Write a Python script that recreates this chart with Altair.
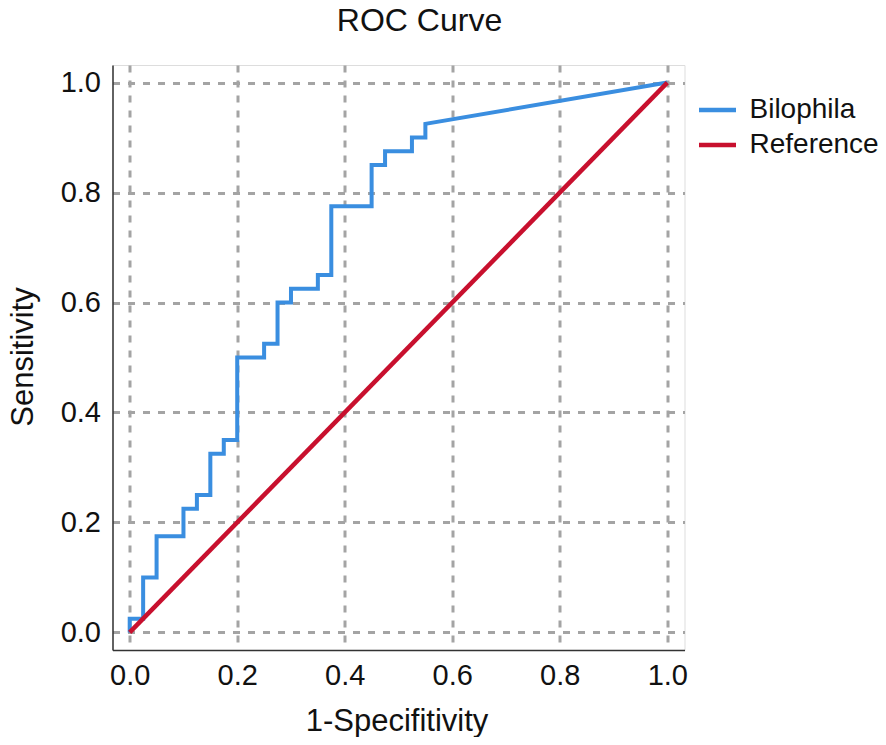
import altair as alt
import pandas as pd

# ROC curve points for Bilophila (1-specificity, sensitivity)
fpr = [0.0, 0.0, 0.025, 0.025, 0.05, 0.05, 0.1, 0.1, 0.125, 0.125, 0.15, 0.15,
       0.175, 0.175, 0.2, 0.2, 0.25, 0.25, 0.275, 0.275, 0.3, 0.3, 0.35, 0.35,
       0.375, 0.375, 0.45, 0.45, 0.475, 0.475, 0.525, 0.525, 0.55, 0.55, 1.0]
tpr = [0.0, 0.025, 0.025, 0.1, 0.1, 0.175, 0.175, 0.225, 0.225, 0.25, 0.25, 0.325,
       0.325, 0.35, 0.35, 0.5, 0.5, 0.525, 0.525, 0.6, 0.6, 0.625, 0.625, 0.65,
       0.65, 0.775, 0.775, 0.85, 0.85, 0.875, 0.875, 0.9, 0.9, 0.925, 1.0]

ref_x = [0.0, 1.0]
ref_y = [0.0, 1.0]

series_names = ["Bilophila", "Reference"]
series_colors = ["#3a8ee0", "#c8102e"]
tick_values = [0.0, 0.2, 0.4, 0.6, 0.8, 1.0]

roc_df = pd.DataFrame({"x": fpr, "y": tpr, "order": list(range(len(fpr))),
                       "series": series_names[0]})
ref_df = pd.DataFrame({"x": ref_x, "y": ref_y, "order": [0, 1],
                       "series": series_names[1]})

FONT = "Liberation Sans"
dom = [-0.032, 1.032]

color = alt.Color(
    "series:N",
    scale=alt.Scale(domain=series_names, range=series_colors),
    legend=alt.Legend(
        title=None, orient="none", legendX=584, legendY=24,
        symbolType="stroke", symbolSize=1369, symbolStrokeWidth=4.5,
        labelFont=FONT, labelFontSize=28, labelColor="#111111",
        labelOffset=11, padding=0, rowPadding=-2,
    ),
)

x_enc = alt.X(
    "x:Q", scale=alt.Scale(domain=dom, nice=False, zero=False),
    axis=alt.Axis(
        values=tick_values, format=".1f", title="1-Specifitivity",
        ticks=False, labelPadding=11, labelBaseline="top",
        labelFont=FONT, labelFontSize=29, labelColor="#111111",
        titleFont=FONT, titleFontSize=31, titleFontWeight="normal",
        titleColor="#111111", titleX=284, titleY=80,
        titleBaseline="alphabetic", titleAlign="center",
        grid=True, gridDash=[7, 8], gridColor="#a4a4a4", gridWidth=3,
        domainColor="#333333", domainWidth=1.5,
    ),
)
y_enc = alt.Y(
    "y:Q", scale=alt.Scale(domain=dom, nice=False, zero=False),
    axis=alt.Axis(
        values=tick_values, format=".1f", title="Sensitivity",
        ticks=False, labelPadding=12,
        labelFont=FONT, labelFontSize=29, labelColor="#111111",
        titleFont=FONT, titleFontSize=31, titleFontWeight="normal",
        titleColor="#111111", titleX=-80, titleY=291.5, titleAngle=270,
        titleBaseline="alphabetic", titleAlign="center",
        grid=True, gridDash=[7, 8], gridColor="#a4a4a4", gridWidth=3,
        domainColor="#333333", domainWidth=1.5,
    ),
)

roc = alt.Chart(roc_df).mark_line(strokeWidth=4).encode(
    x=x_enc, y=y_enc, order="order:Q", color=color)
ref = alt.Chart(ref_df).mark_line(strokeWidth=4.5).encode(
    x=x_enc, y=y_enc, order="order:Q", color=color)

chart = alt.layer(roc, ref).properties(
    width=572, height=585,
    title=alt.TitleParams(
        text="ROC Curve", font=FONT, fontSize=32, fontWeight="normal",
        color="#111111", anchor="middle", frame="group", offset=2,
        baseline="alphabetic", dx=21,
    ),
    autosize=alt.AutoSizeParams(type="none"),
    padding={"left": 104.5, "top": 57, "right": 193.5, "bottom": 87},
).configure_view(stroke=None).configure(background="white")

chart.save("out.html", embed_options={"renderer": "svg", "actions": False})
